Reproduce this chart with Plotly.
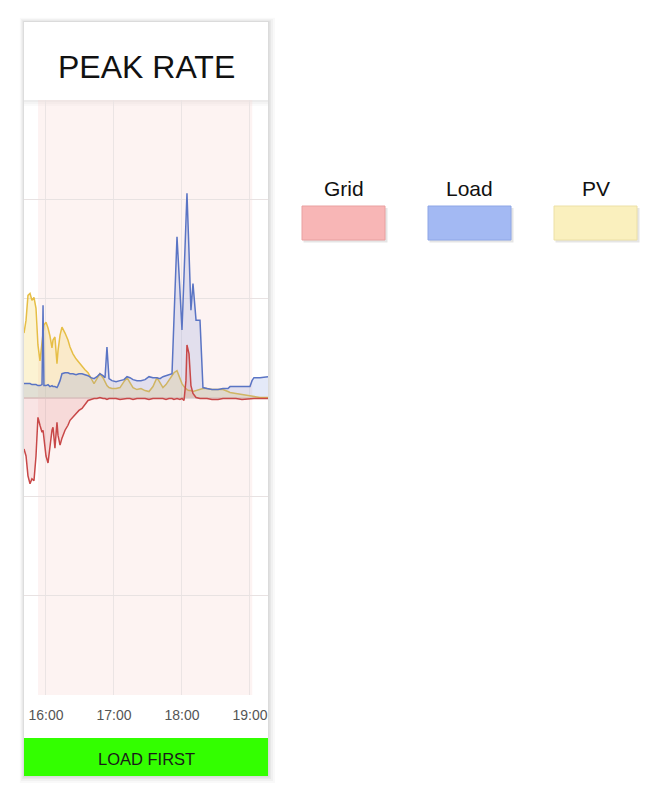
import plotly.graph_objects as go
import pandas as pd

# ---------------- data ----------------
times = [
    "15:40:36", "15:42:24", "15:44:06", "15:45:54", "15:47:36", "15:49:24", "15:51:12", "15:52:54",
    "15:54:42", "15:56:30", "15:57:24", "15:58:12", "16:00:00", "16:01:48", "16:03:30", "16:05:18",
    "16:06:12", "16:07:54", "16:09:42", "16:10:36", "16:12:24", "16:14:06", "16:16:48", "16:19:24",
    "16:21:12", "16:23:48", "16:26:30", "16:29:06", "16:31:48", "16:34:24", "16:37:06", "16:39:42",
    "16:42:24", "16:45:00", "16:47:36", "16:50:18", "16:52:06", "16:53:48", "16:55:36", "16:58:12",
    "17:01:48", "17:05:18", "17:08:48", "17:11:30", "17:14:06", "17:16:48", "17:20:18", "17:23:48",
    "17:27:24", "17:30:54", "17:34:24", "17:37:54", "17:40:36", "17:43:12", "17:45:54", "17:48:30",
    "17:51:12", "17:52:54", "17:55:36", "17:58:12", "18:00:00", "18:01:48", "18:03:30", "18:04:24",
    "18:06:12", "18:07:54", "18:09:42", "18:12:24", "18:15:54", "18:18:30", "18:22:06", "18:26:30",
    "18:31:48", "18:36:12", "18:40:36", "18:42:24", "18:47:36", "18:52:54", "19:00:00", "19:01:48",
    "19:03:30", "19:08:48", "19:15:54",
]

grid_kw = [
    -0.52, -0.59, -0.79, -0.87, -0.82, -0.84, -0.59, -0.20,
    -0.28, -0.35, -0.33, -0.43, -0.59, -0.66, -0.48, -0.33,
    -0.30, -0.51, -0.25, -0.38, -0.48, -0.41, -0.33, -0.28,
    -0.23, -0.20, -0.16, -0.13, -0.11, -0.07, -0.03, -0.02,
    -0.01, -0.01, 0.00, -0.01, -0.01, -0.02, -0.01, -0.01,
    -0.01, -0.02, -0.01, -0.01, -0.01, -0.02, -0.01, -0.01,
    -0.01, -0.02, -0.01, -0.01, -0.01, -0.01, -0.02, -0.01,
    -0.01, -0.02, -0.01, -0.02, -0.01, -0.03, 0.17, 0.53,
    0.44, 0.12, 0.04, 0.00, -0.01, -0.01, -0.01, -0.02,
    -0.02, -0.01, -0.01, -0.01, -0.01, -0.02, -0.01, -0.01,
    -0.01, -0.01, -0.01,
]

load_kw = [
    0.14, 0.14, 0.14, 0.14, 0.13, 0.13, 0.13, 0.12,
    0.12, 0.13, 0.93, 0.12, 0.12, 0.13, 0.11, 0.12,
    0.11, 0.11, 0.10, 0.12, 0.17, 0.24, 0.25, 0.25,
    0.24, 0.24, 0.23, 0.24, 0.24, 0.23, 0.22, 0.20,
    0.19, 0.21, 0.24, 0.22, 0.20, 0.51, 0.19, 0.17,
    0.16, 0.17, 0.18, 0.21, 0.20, 0.18, 0.17, 0.17,
    0.18, 0.21, 0.20, 0.20, 0.19, 0.21, 0.22, 0.23,
    0.24, 0.78, 1.62, 1.08, 0.68, 1.23, 1.79, 2.06,
    1.47, 0.88, 1.15, 0.78, 0.78, 0.10, 0.09, 0.08,
    0.08, 0.09, 0.09, 0.11, 0.11, 0.11, 0.11, 0.17,
    0.20, 0.20, 0.21,
]

pv_kw = [
    0.65, 0.78, 1.03, 1.05, 0.98, 1.01, 0.90, 0.53,
    0.37, 0.58, 0.68, 0.73, 0.76, 0.70, 0.62, 0.50,
    0.58, 0.61, 0.34, 0.47, 0.63, 0.71, 0.65, 0.58,
    0.51, 0.44, 0.39, 0.35, 0.31, 0.28, 0.25, 0.19,
    0.14, 0.19, 0.24, 0.20, 0.15, 0.12, 0.10, 0.09,
    0.09, 0.10, 0.16, 0.20, 0.15, 0.10, 0.08, 0.09,
    0.07, 0.06, 0.11, 0.20, 0.15, 0.10, 0.13, 0.17,
    0.22, 0.25, 0.27, 0.19, 0.14, 0.11, 0.09, 0.08,
    0.07, 0.07, 0.06, 0.07, 0.08, 0.09, 0.09, 0.08,
    0.08, 0.08, 0.06, 0.05, 0.04, 0.03, 0.02, 0.01,
    0.01, 0.00, 0.00,
]

tick_times = ["16:00", "17:00", "18:00", "19:00"]
tick_labels = ["16:00", "17:00", "18:00", "19:00"]
series_names = ["Grid", "Load", "PV"]
period_title = "PEAK RATE"
mode_label = "LOAD FIRST"
peak_window = ["15:53", "19:02"]
x_window = ["15:40:36", "19:15:54"]

# ---------------- styling ----------------
W, H = 664, 800
DAY = "2024-01-01 "
line_colors = {"Grid": "#c84848", "Load": "#5a74c4", "PV": "#e6be46"}
fill_colors = {"Grid": "rgba(215,90,90,0.16)", "Load": "rgba(120,145,220,0.20)",
               "PV": "rgba(245,215,110,0.30)"}
legend_fill = {"Grid": "#f8b6b6", "Load": "#a3b9f3", "PV": "#faf0be"}
legend_line = {"Grid": "#e9a0a0", "Load": "#8ea6e6", "PV": "#ece0a6"}
FONT = "Liberation Sans, Arial, sans-serif"


def px(x):
    return x / W


def py(y):
    return 1 - y / H


x = pd.to_datetime([DAY + t for t in times])
series = {"Grid": grid_kw, "Load": load_kw, "PV": pv_kw}

fig = go.Figure()
for name in ["PV", "Load", "Grid"]:
    fig.add_trace(go.Scatter(
        x=x, y=series[name], mode="lines", name=name,
        line=dict(color=line_colors[name], width=1.5),
        fill="tozeroy", fillcolor=fill_colors[name],
        showlegend=False, hoverinfo="skip",
    ))

shapes = []
# panel shadow
for off, a in [(7, 0.025), (5, 0.03), (3, 0.04), (1.5, 0.05)]:
    shapes.append(dict(type="rect", xref="paper", yref="paper", layer="below",
                       x0=px(24 - off * 0.6), x1=px(268 + off),
                       y0=py(776 + off), y1=py(22 - off * 0.6),
                       fillcolor=f"rgba(0,0,0,{a})", line=dict(width=0)))
# panel
shapes.append(dict(type="rect", xref="paper", yref="paper", layer="below",
                   x0=px(24), x1=px(268), y0=py(776), y1=py(22),
                   fillcolor="white", line=dict(width=0)))
# header bottom shadow
for off, a in [(6, 0.02), (4, 0.025), (2, 0.03)]:
    shapes.append(dict(type="rect", xref="paper", yref="paper", layer="below",
                       x0=px(24), x1=px(268), y0=py(100 + off), y1=py(100),
                       fillcolor=f"rgba(0,0,0,{a})", line=dict(width=0)))
# green mode bar
shapes.append(dict(type="rect", xref="paper", yref="paper", layer="below",
                   x0=px(24), x1=px(268), y0=py(776), y1=py(738),
                   fillcolor="#33ff00", line=dict(width=0)))
# peak-rate background band
shapes.append(dict(type="rect", xref="x", yref="y domain", layer="below",
                   x0=DAY + peak_window[0], x1=DAY + peak_window[1], y0=0, y1=1,
                   fillcolor="rgba(250,215,212,0.30)", line=dict(width=0)))

annotations = [
    dict(text=period_title, x=px(146), y=py(67), xref="paper", yref="paper",
         xanchor="center", yanchor="middle",
         showarrow=False, font=dict(family=FONT, size=32, color="#111")),
    dict(text=mode_label, x=px(146), y=py(759), xref="paper", yref="paper",
         xanchor="center", yanchor="middle",
         showarrow=False, font=dict(family=FONT, size=16.5, color="#1a1a1a")),
]

# custom legend
legend_x = {"Grid": (302, 385), "Load": (428, 511), "PV": (554, 637)}
for name in series_names:
    x0, x1 = legend_x[name]
    shapes.append(dict(type="rect", xref="paper", yref="paper",
                       x0=px(x0 + 1.5), x1=px(x1 + 2.5), y0=py(242.5), y1=py(208),
                       fillcolor="rgba(0,0,0,0.10)", line=dict(width=0)))
    shapes.append(dict(type="rect", xref="paper", yref="paper",
                       x0=px(x0), x1=px(x1), y0=py(240), y1=py(206),
                       fillcolor=legend_fill[name], line=dict(color=legend_line[name], width=1)))
    annotations.append(dict(text=name, x=px((x0 + x1) / 2), y=py(188), xref="paper", yref="paper",
                            xanchor="center", yanchor="middle",
                            showarrow=False, font=dict(family=FONT, size=21, color="#111")))

fig.update_layout(
    width=W, height=H,
    margin=dict(l=0, r=0, t=0, b=0),
    paper_bgcolor="white",
    plot_bgcolor="rgba(0,0,0,0)",
    shapes=shapes,
    annotations=annotations,
    xaxis=dict(
        domain=[px(24), px(268)],
        type="date",
        range=[DAY + x_window[0], DAY + x_window[1]],
        tickvals=[DAY + t for t in tick_times],
        ticktext=tick_labels,
        showgrid=True, gridcolor="#ebe4e4", gridwidth=1.2,
        zeroline=False, showline=False, ticks="",
        tickfont=dict(family="Liberation Sans Narrow, Liberation Sans, sans-serif", size=14, color="#555"),
        ticklabelstandoff=10,
        fixedrange=True,
    ),
    yaxis=dict(
        domain=[py(695), py(100)],
        range=[-3, 3],
        dtick=1,
        showticklabels=False,
        showgrid=True, gridcolor="#e8e2e2", gridwidth=1.2,
        zeroline=True, zerolinecolor="#e2d8d8", zerolinewidth=1.5,
        showline=False, ticks="",
        fixedrange=True,
    ),
)

fig.write_html(
    "out.html",
    config={"displayModeBar": False},
    post_script="document.body.style.margin='0';document.body.style.overflow='hidden';",
)
